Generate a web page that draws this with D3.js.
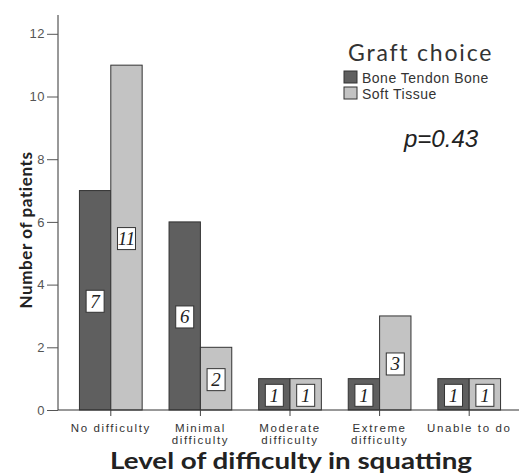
<!DOCTYPE html>
<html>
<head>
<meta charset="UTF-8">
<title>Level of difficulty in squatting</title>
<script src="https://d3js.org/d3.v7.min.js"></script>
<style>
  body { margin: 0; background: #fff; }
  svg { display: block; }
</style>
</head>
<body>
<svg id="chart" width="519" height="474"></svg>
<script>
// data
var categories = [["No difficulty"], ["Minimal", "difficulty"], ["Moderate", "difficulty"], ["Extreme", "difficulty"], ["Unable to do"]];
var seriesNames = ["Bone Tendon Bone", "Soft Tissue"];
var btbValues = [7, 6, 1, 1, 1];
var softValues = [11, 2, 1, 3, 1];
var yTicks = [0, 2, 4, 6, 8, 10, 12];
var colors = ["#5f5f5f", "#c3c3c3"];

var svg = d3.select("#chart");

// one band per category, ticks fall at the band centres
var x0 = d3.scaleBand()
  .domain(d3.range(categories.length))
  .range([66, 514])
  .padding(0);
var step = x0.step();

// two bars side by side, together 70% of the band
var x1 = d3.scaleBand()
  .domain([0, 1])
  .range([0, step * 0.7]);

var y = d3.scaleLinear()
  .domain([0, 12.6])
  .range([410, 15]);

// y axis
var yAxis = svg.append("g")
  .attr("transform", "translate(58,0)")
  .call(d3.axisLeft(y).tickValues(yTicks).tickSize(11).tickPadding(2));
yAxis.select(".domain").attr("stroke", "#333").attr("d", "M0," + y(12.6) + "V" + y(0));
yAxis.selectAll(".tick line").attr("stroke", "#555");
yAxis.selectAll(".tick text")
  .attr("fill", "#555")
  .style("font-family", "Liberation Sans, Arial, sans-serif")
  .style("font-size", "13px")
  .style("letter-spacing", "0.5px");

// bars
var groups = svg.append("g").selectAll("g")
  .data(categories)
  .enter().append("g")
  .attr("transform", function(d, i) { return "translate(" + (x0(i) + step * 0.15) + ",0)"; });

var barData = function(d, i) {
  return [{ s: 0, v: btbValues[i] }, { s: 1, v: softValues[i] }];
};

groups.selectAll("rect.bar")
  .data(barData)
  .enter().append("rect")
  .attr("class", "bar")
  .attr("x", function(d) { return x1(d.s); })
  .attr("y", function(d) { return y(d.v); })
  .attr("width", x1.bandwidth())
  .attr("height", function(d) { return y(0) - y(d.v); })
  .attr("fill", function(d) { return colors[d.s]; })
  .attr("stroke", "#333")
  .attr("stroke-width", 1);

// value labels in white boxes
var lab = groups.selectAll("g.lab")
  .data(barData)
  .enter().append("g")
  .attr("class", "lab")
  .attr("transform", function(d) {
    return "translate(" + (x1(d.s) + x1.bandwidth() / 2) + "," + ((y(d.v) + y(0)) / 2 + 1) + ")";
  });
lab.append("rect")
  .attr("x", -9).attr("y", -11)
  .attr("width", 18).attr("height", 22)
  .attr("fill", "#fff")
  .attr("stroke", "#333")
  .attr("stroke-width", 1);
lab.append("text")
  .attr("text-anchor", "middle")
  .attr("y", 6.5)
  .style("font-family", "Liberation Serif, Times New Roman, serif")
  .style("font-style", "italic")
  .style("font-size", "19px")
  .attr("fill", "#222")
  .text(function(d) { return d.v; });

// x axis
var xAxis = svg.append("g")
  .attr("transform", "translate(0,410)");
xAxis.append("line")
  .attr("x1", 58).attr("x2", 519)
  .attr("stroke", "#333");
var ticks = xAxis.selectAll("g.tick")
  .data(categories)
  .enter().append("g")
  .attr("class", "tick")
  .attr("transform", function(d, i) { return "translate(" + (x0(i) + step / 2) + ",0)"; });
ticks.append("line").attr("y2", 6).attr("stroke", "#444");
ticks.append("text")
  .attr("text-anchor", "middle")
  .attr("fill", "#333")
  .style("font-family", "Liberation Sans, Arial, sans-serif")
  .style("font-size", "11.5px")
  .style("letter-spacing", "1.6px")
  .selectAll("tspan")
  .data(function(d) { return d; })
  .enter().append("tspan")
  .attr("x", 0)
  .attr("y", function(d, i) { return 22 + i * 12; })
  .text(function(d) { return d; });

// axis titles (the original lettering is a bit stretched)
svg.append("text")
  .attr("x", 110).attr("y", 469)
  .attr("textLength", 362)
  .attr("lengthAdjust", "spacingAndGlyphs")
  .style("font-family", "Lato, sans-serif")
  .style("font-weight", "bold")
  .style("font-size", "22px")
  .attr("fill", "#222")
  .text("Level of difficulty in squatting");

svg.append("text")
  .attr("transform", "translate(32,230) rotate(-90)")
  .attr("text-anchor", "middle")
  .style("font-family", "Lato, sans-serif")
  .style("font-weight", "bold")
  .style("font-size", "17px")
  .style("letter-spacing", "0.6px")
  .attr("fill", "#222")
  .text("Number of patients");

// legend
var legend = svg.append("g").attr("transform", "translate(344,0)");
legend.append("text")
  .attr("x", 4).attr("y", 61)
  .style("font-family", "Lato, sans-serif")
  .style("font-size", "23px")
  .style("letter-spacing", "1.8px")
  .attr("fill", "#333")
  .text("Graft choice");
var items = legend.selectAll("g.item")
  .data(seriesNames)
  .enter().append("g")
  .attr("class", "item")
  .attr("transform", function(d, i) { return "translate(0," + (71 + i * 16) + ")"; });
items.append("rect")
  .attr("width", 13).attr("height", 12)
  .attr("fill", function(d, i) { return colors[i]; })
  .attr("stroke", "#333");
items.append("text")
  .attr("x", 18).attr("y", 11.5)
  .style("font-family", "Liberation Sans, Arial, sans-serif")
  .style("font-size", "14px")
  .style("letter-spacing", "0.5px")
  .attr("fill", "#333")
  .text(function(d) { return d; });

svg.append("text")
  .attr("x", 404).attr("y", 147)
  .style("font-family", "Liberation Sans, Arial, sans-serif")
  .style("font-style", "italic")
  .style("font-size", "24px")
  .attr("fill", "#222")
  .text("p=0.43");
</script>
</body>
</html>
